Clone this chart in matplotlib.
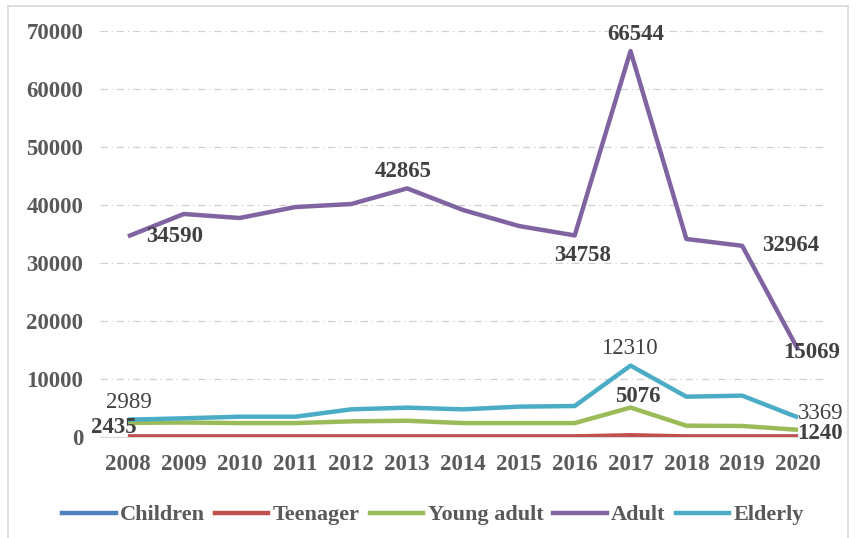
import matplotlib
matplotlib.use("Agg")
import matplotlib.pyplot as plt
from matplotlib.lines import Line2D

plt.rcParams['font.family'] = ['Liberation Serif', 'DejaVu Serif']

years = ["2008", "2009", "2010", "2011", "2012", "2013", "2014",
         "2015", "2016", "2017", "2018", "2019", "2020"]
children = [40, 40, 40, 40, 40, 40, 40, 40, 40, 120, 40, 40, 40]
teenager = [100, 100, 100, 100, 100, 100, 100, 100, 100, 300, 100, 100, 100]
young_adult = [2435, 2500, 2400, 2400, 2700, 2800, 2400, 2400, 2400, 5076, 1950, 1900, 1240]
adult = [34590, 38450, 37760, 39650, 40170, 42865, 39140, 36380, 34758, 66544, 34140, 32964, 15069]
elderly = [2989, 3220, 3500, 3500, 4770, 5060, 4770, 5230, 5340, 12310, 6950, 7130, 3369]

series = [("Children", children, "#4F81BD"),
          ("Teenager", teenager, "#C0504D"),
          ("Young adult", young_adult, "#9BBB59"),
          ("Adult", adult, "#8064A2"),
          ("Elderly", elderly, "#4BACC6")]

fig = plt.figure(figsize=(8.58, 5.38), dpi=100)
ax = fig.add_axes([100/858, 1-437/538, 726/858, 406/538])

x = list(range(len(years)))
for name, vals, col in series:
    ax.plot(x, vals, color=col, lw=3.2, solid_joinstyle='round', solid_capstyle='butt', label=name, zorder=3)

ax.set_xlim(-0.5, 12.5)
ax.set_ylim(0, 70000)
ax.set_yticks(range(0, 70001, 10000))
ax.set_yticklabels([str(v) for v in range(0, 70001, 10000)])
ax.set_xticks(x)
ax.set_xticklabels(years)
ax.tick_params(length=0, labelsize=16.5, colors="#595959")
ax.tick_params(axis='x', pad=12)
ax.tick_params(axis='y', pad=12)
for t in ax.get_xticklabels() + ax.get_yticklabels():
    t.set_fontweight('bold')
ax.grid(axis='y', color="#d0d0d0", lw=0.9, linestyle=(0, (6, 3, 1, 3)))
for s in ['top', 'right', 'left']:
    ax.spines[s].set_visible(False)
ax.spines['bottom'].set_color("#d9d9d9")

def lab(i, vals, txt_dx, txt_dy, bold=True, color="#404040"):
    ax.annotate(str(vals[i]), (i, vals[i]), xytext=(txt_dx, txt_dy),
                textcoords='offset pixels', ha='center', va='center',
                fontsize=16.5, fontweight='bold' if bold else 'normal',
                color=color, zorder=5)

lab(0, adult, 47, 0)
lab(5, adult, -4, 17)
lab(8, adult, 8, -20)
lab(9, adult, 5, 17)
lab(11, adult, 48, 0)
lab(12, adult, 14, -3)
lab(0, elderly, 1, 17, bold=False)
lab(9, elderly, -1, 17, bold=False)
lab(12, elderly, 23, 4, bold=False)
lab(0, young_adult, -14, -5)
lab(9, young_adult, 7, 11)
lab(12, young_adult, 22, -4)

handles = [Line2D([0], [0], color=c, lw=3.2) for _, _, c in series]
fig.legend(handles, [n for n, _, _ in series], loc='center', bbox_to_anchor=(433/858, 1-515/538),
           ncol=5, frameon=False, handlelength=2.4, handletextpad=0.2, columnspacing=0.45,
           prop={'size': 16, 'weight': 'bold'}, labelcolor="#595959")

fig.add_artist(plt.Rectangle((8/858, -0.05), 840/858, 1.05 - 6/538, transform=fig.transFigure,
                             fill=False, edgecolor="#d9d9d9", lw=1.2))

fig.savefig("out.png", dpi=100)
